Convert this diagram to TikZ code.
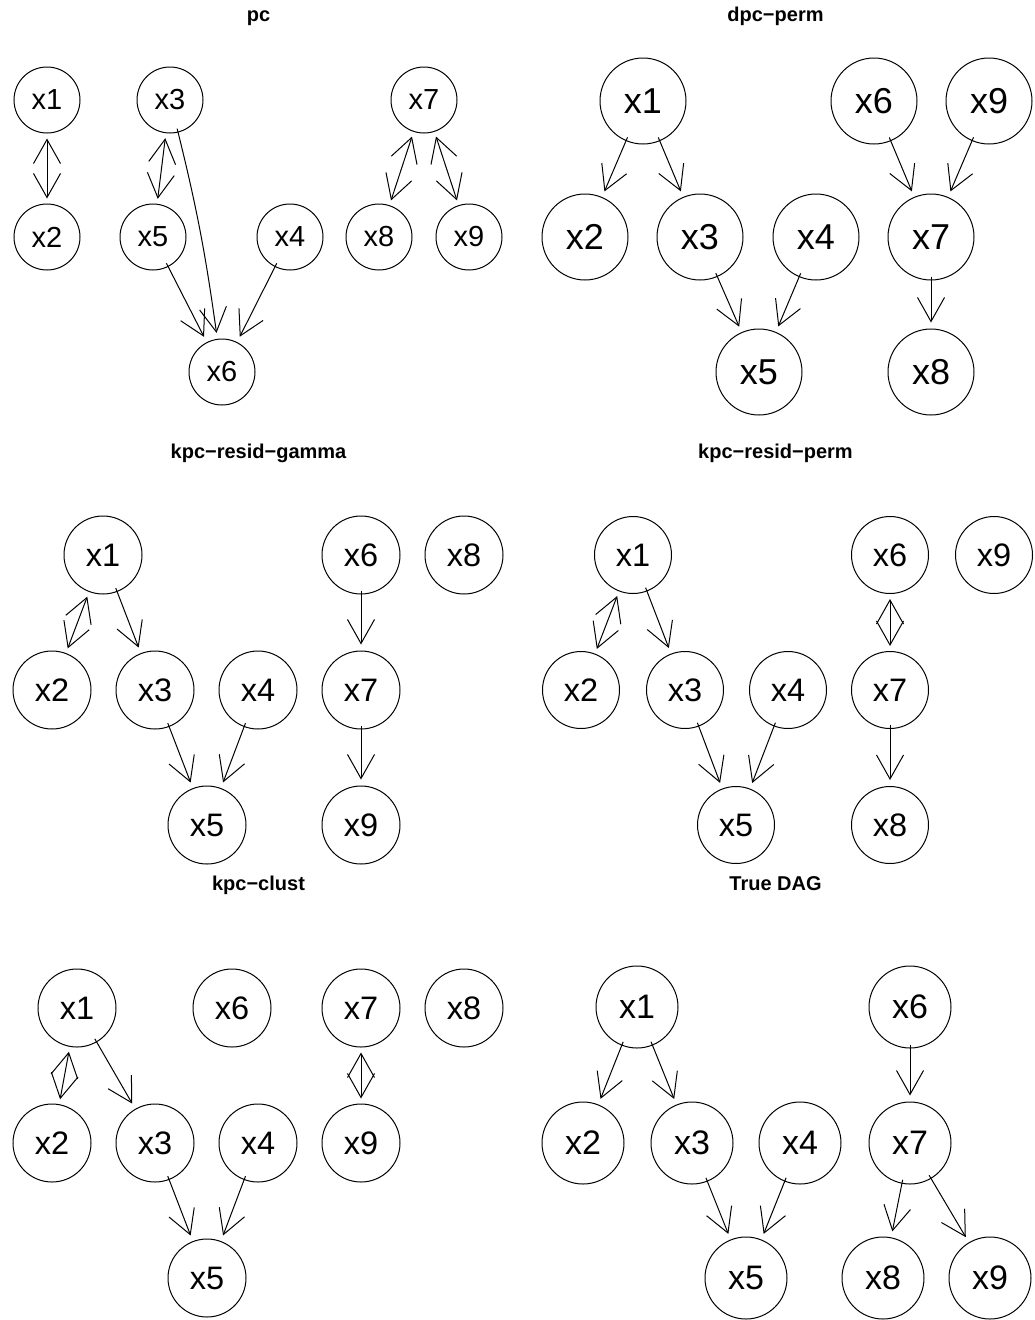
\documentclass[tikz,border=0pt]{standalone}
\usepackage{fontspec}
\setmainfont{Liberation Sans}
\usetikzlibrary{arrows.meta}
\tikzset{
	vtx/.style 2 args={draw, circle, inner sep=0pt, line width=1pt, minimum size=#1pt, font=\fontsize{#2}{#2}\selectfont},
	ed/.style={line width=1pt, -{Straight Barb[length=24pt,width=27pt]}, shorten >=6pt, shorten <=-4pt},
	bi/.style={line width=1pt, {Straight Barb[length=24pt,width=27pt]}-{Straight Barb[length=24pt,width=27pt]}, shorten >=5pt, shorten <=5pt},
	ttl/.style={anchor=base, font=\fontsize{20}{24}\selectfont\bfseries}
}
\begin{document}
\begin{tikzpicture}[x=1pt,y=1pt]
	\useasboundingbox[fill=white] (0,0) rectangle (1034,-1320);
	%
	\node[ttl] (t1) at (258.5,-21) {pc};
	\node[ttl] (t2) at (775.5,-21) {dpc−perm};
	\node[ttl] (t3) at (258.5,-458) {kpc−resid−gamma};
	\node[ttl] (t4) at (775.5,-458) {kpc−resid−perm};
	\node[ttl] (t5) at (258.5,-890) {kpc−clust};
	\node[ttl] (t6) at (775.5,-890) {True DAG};
	%
	% pc
	\foreach \n/\x/\y in {1/47/100,2/47/237,3/170/100,5/153/237,4/290/237,6/222/372,7/424/100,8/379/237,9/469/237}
	\node[vtx={66}{29}] (pc\n) at (\x,-\y) {x\n};
	\foreach \a/\b in {1/2,3/5,7/8,7/9}
	\draw[bi] (pc\a) -- (pc\b);
	\foreach \a/\b in {5/6,4/6}
	\draw[ed] (pc\a) -- (pc\b);
	\draw[ed] (pc3) to[out=-76,in=98] (pc6);
	%
	% dpc-perm
	\foreach \n/\x/\y in {1/643/101,2/585/237,3/700/237,4/816/237,5/759/372,6/874/101,9/989/101,7/931/237,8/931/372}
	\node[vtx={86}{36}] (dp\n) at (\x,-\y) {x\n};
	\foreach \a/\b in {1/2,1/3,3/5,4/5,6/7,9/7,7/8}
	\draw[ed] (dp\a) -- (dp\b);
	%
	% kpc-resid-gamma
	\foreach \n/\x/\y in {1/103/555,2/52/690,3/155/690,4/258/690,5/207/825,6/361/555,8/464/555,7/361/690,9/361/825}
	\node[vtx={78}{32.5}] (rg\n) at (\x,-\y) {x\n};
	\draw[bi] (rg1) -- (rg2);
	\foreach \a/\b in {1/3,3/5,4/5,6/7,7/9}
	\draw[ed] (rg\a) -- (rg\b);
	%
	% kpc-resid-perm
	\foreach \n/\x/\y in {1/633/555,2/581/690,3/685/690,4/788/690,5/736/825,6/890/555,9/994/555,7/890/690,8/890/825}
	\node[vtx={77}{32.5}] (rp\n) at (\x,-\y) {x\n};
	\foreach \a/\b in {1/2,6/7}
	\draw[bi] (rp\a) -- (rp\b);
	\foreach \a/\b in {1/3,3/5,4/5,7/8}
	\draw[ed] (rp\a) -- (rp\b);
	%
	% kpc-clust
	\foreach \n/\x/\y in {1/77/1008,6/232/1008,7/361/1008,8/464/1008,2/52/1143,3/155/1143,4/258/1143,9/361/1143,5/207/1278}
	\node[vtx={78}{32.5}] (cl\n) at (\x,-\y) {x\n};
	\foreach \a/\b in {1/2,7/9}
	\draw[bi] (cl\a) -- (cl\b);
	\foreach \a/\b in {1/3,3/5,4/5}
	\draw[ed] (cl\a) -- (cl\b);
	%
	% true DAG
	\foreach \n/\x/\y in {1/637/1007,6/910/1007,2/583/1143,3/692/1143,4/800/1143,7/910/1143,5/746/1278,8/883/1278,9/990/1278}
	\node[vtx={82}{34}] (td\n) at (\x,-\y) {x\n};
	\foreach \a/\b in {1/2,1/3,3/5,4/5,6/7,7/8,7/9}
	\draw[ed] (td\a) -- (td\b);
\end{tikzpicture}
\end{document}
